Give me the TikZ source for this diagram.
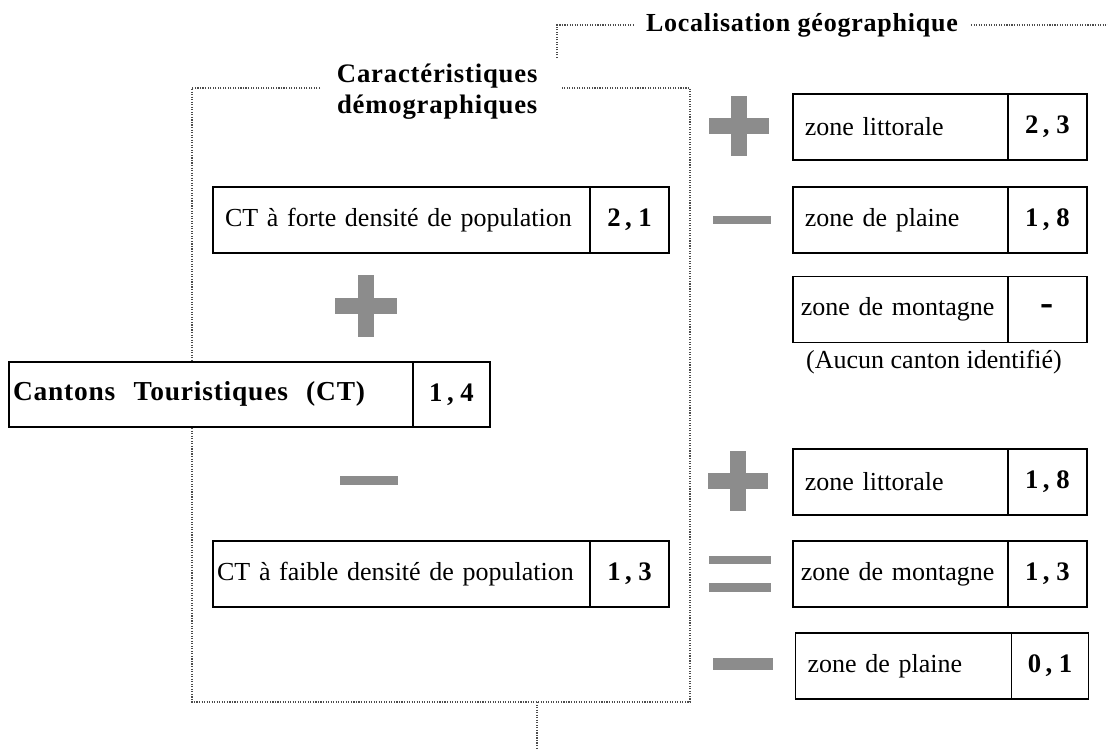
\documentclass[tikz,border=0pt]{standalone}
\usepackage{fontspec}
\setmainfont{Liberation Serif}
\newfontfamily\titleFont[LetterSpace=3]{Liberation Serif}
\usepackage{tikz}
\usetikzlibrary{positioning}
\usepackage{xcolor}
\definecolor{signGray}{gray}{0.55}

\begin{document}
\begin{tikzpicture}[
    labelCell/.style={rectangle, draw=black, line width=1.1pt, fill=white, outer sep=0pt, inner xsep=0.3cm, minimum height=1.65cm, align=left, font=\fontsize{18.5}{21}\selectfont},
    valueCell/.style={rectangle, draw=black, line width=1.1pt, fill=white, outer sep=0pt, inner sep=0pt, minimum height=1.65cm, font=\fontsize{19}{21}\selectfont\bfseries},
    signBar/.style={rectangle, fill=signGray, draw=none, inner sep=0pt},
    dotLine/.style={densely dotted, line width=0.8pt, draw=black!70},
    titleText/.style={font=\titleFont\fontsize{19}{22}\selectfont\bfseries, align=center}
]
    \useasboundingbox (0,0) rectangle (27.7,-18.725);

    % Cadre des caracteristiques demographiques
    \coordinate (gapL) at (8.0,-2.2);
    \coordinate (gapR) at (14.05,-2.2);
    \coordinate (frameNW) at (4.8,-2.2);
    \coordinate (frameSW) at (4.8,-17.55);
    \coordinate (frameSE) at (17.25,-17.55);
    \coordinate (frameNE) at (17.25,-2.2);
    \coordinate (frameFoot) at (13.425,-17.55);
    \coordinate (footEnd) at (13.425,-18.725);
    \node[titleText] (demoTitle) at (10.93,-2.3) {Caractéristiques\\démographiques};
    \draw[dotLine] (gapL) -- (frameNW) -- (frameSW) -- (frameSE) -- (frameNE) -- (gapR);
    \draw[dotLine] (frameFoot) -- (footEnd);

    % Localisation geographique
    \node[titleText, font=\titleFont\fontsize{18.5}{21}\selectfont\bfseries] (geoTitle) at (20.05,-0.625) {Localisation géographique};
    \coordinate (geoTick) at (13.925,-1.45);
    \coordinate (geoCorner) at (13.925,-0.625);
    \coordinate (geoEnd) at (27.7,-0.625);
    \draw[dotLine] (geoTick) -- (geoCorner) -- ([xshift=-0.2cm]geoTitle.west);
    \draw[dotLine] ([xshift=0.2cm]geoTitle.east) -- (geoEnd);

    % Colonne de gauche
    \node[labelCell, text width=8.825cm] (forteLbl) at (10.04,-5.5) {CT à forte densité de population};
    \node[valueCell, minimum width=1.975cm, right=0pt of forteLbl] (forteVal) {2\,, 1};

    \node[signBar, minimum width=1.55cm, minimum height=0.4cm] (plusDemoH) at (9.15,-7.65) {};
    \node[signBar, minimum width=0.4cm, minimum height=1.55cm] (plusDemoV) at (plusDemoH) {};

    \node[labelCell, inner xsep=0.1cm, text width=9.9cm, minimum height=1.625cm, font=\titleFont\fontsize{19.5}{22}\selectfont\bfseries] (ctLbl) at (5.275,-9.86) {Cantons\ \ Touristiques\ \ (CT)};
    \node[valueCell, minimum width=1.925cm, minimum height=1.625cm, right=0pt of ctLbl] (ctVal) {1\,, 4};

    \node[signBar, minimum width=1.45cm, minimum height=0.22cm] (minusDemo) at (9.22,-12.02) {};

    \node[labelCell, inner xsep=0.1cm, text width=9.225cm] (faibleLbl) at (10.04,-14.35) {CT à faible densité de population};
    \node[valueCell, minimum width=1.975cm, right=0pt of faibleLbl] (faibleVal) {1\,, 3};

    % Colonne de droite (haut)
    \node[signBar, minimum width=1.5cm, minimum height=0.4cm] (plusGeoH) at (18.475,-3.15) {};
    \node[signBar, minimum width=0.4cm, minimum height=1.5cm] (plusGeoV) at (plusGeoH) {};
    \node[labelCell, text width=4.775cm] (litHautLbl) at (22.51,-3.175) {zone littorale};
    \node[valueCell, minimum width=1.975cm, right=0pt of litHautLbl] (litHautVal) {2\,, 3};

    \node[signBar, minimum width=1.45cm, minimum height=0.22cm] (minusGeoA) at (18.55,-5.5) {};
    \node[labelCell, text width=4.775cm] (plaineHautLbl) at (22.51,-5.5) {zone de plaine};
    \node[valueCell, minimum width=1.975cm, right=0pt of plaineHautLbl] (plaineHautVal) {1\,, 8};

    \node[labelCell, inner xsep=0.2cm, text width=4.975cm] (montHautLbl) at (22.51,-7.74) {zone de montagne};
    \node[valueCell, minimum width=1.975cm, right=0pt of montHautLbl, font=\fontsize{28}{28}\selectfont\bfseries] (montHautVal) {-};
    \node[font=\fontsize{18.5}{21}\selectfont] (aucunNote) at (23.35,-9.05) {(Aucun canton identifié)};

    % Colonne de droite (bas)
    \node[signBar, minimum width=1.5cm, minimum height=0.4cm] (plusGeoBasH) at (18.45,-12.02) {};
    \node[signBar, minimum width=0.4cm, minimum height=1.5cm] (plusGeoBasV) at (plusGeoBasH) {};
    \node[labelCell, text width=4.775cm] (litBasLbl) at (22.51,-12.05) {zone littorale};
    \node[valueCell, minimum width=1.975cm, right=0pt of litBasLbl] (litBasVal) {1\,, 8};

    \node[signBar, minimum width=1.55cm, minimum height=0.22cm] (equalsTop) at (18.5,-14.0) {};
    \node[signBar, minimum width=1.55cm, minimum height=0.22cm] (equalsBot) at (18.5,-14.68) {};
    \node[labelCell, inner xsep=0.2cm, text width=4.975cm] (montBasLbl) at (22.51,-14.35) {zone de montagne};
    \node[valueCell, minimum width=1.975cm, right=0pt of montBasLbl] (montBasVal) {1\,, 3};

    \node[signBar, minimum width=1.5cm, minimum height=0.28cm] (minusGeoB) at (18.575,-16.6) {};
    \node[labelCell, text width=4.8cm] (plaineBasLbl) at (22.59,-16.65) {zone de plaine};
    \node[valueCell, minimum width=1.925cm, right=0pt of plaineBasLbl] (plaineBasVal) {0\,, 1};
\end{tikzpicture}
\end{document}
